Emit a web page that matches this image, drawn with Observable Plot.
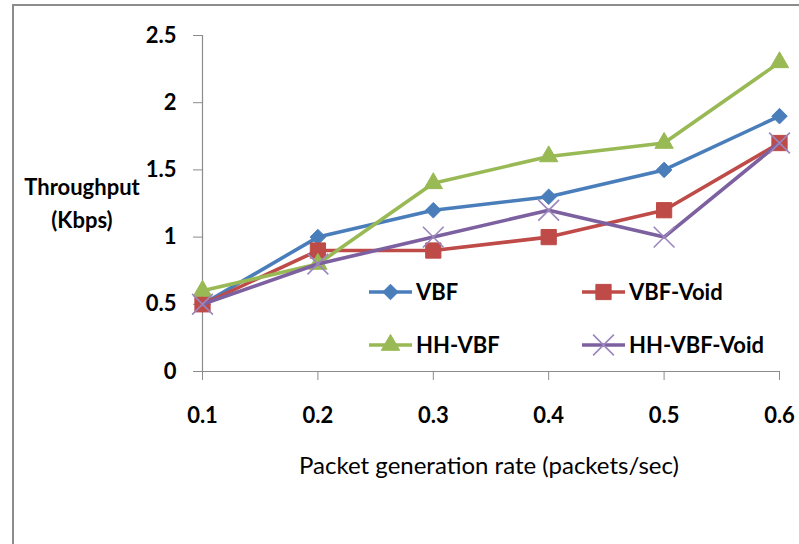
<!DOCTYPE html>
<html>
<head>
<meta charset="utf-8">
<script src="https://cdn.jsdelivr.net/npm/d3@7"></script>
<script src="https://cdn.jsdelivr.net/npm/@observablehq/plot@0.6"></script>
<style>
  html, body { margin: 0; padding: 0; background: #fff; }
  #wrap { position: relative; width: 799px; height: 544px; overflow: hidden; font-family: Lato, "Open Sans", sans-serif; }
  #border { position: absolute; left: 12px; top: 4px; width: 900px; height: 700px; border: 2px solid #8c8c8c; box-sizing: border-box; }
  #chart, #overlay { position: absolute; left: 0; top: 0; }
</style>
</head>
<body>
<div id="wrap">
  <div id="border"></div>
  <div id="chart"></div>
  <svg id="overlay" width="799" height="544"></svg>
</div>
<script>
// ---- data ----
const rates = [0.1, 0.2, 0.3, 0.4, 0.5, 0.6];
const vbf = [0.5, 1.0, 1.2, 1.3, 1.5, 1.9];
const vbfVoid = [0.5, 0.9, 0.9, 1.0, 1.2, 1.7];
const hhVbf = [0.6, 0.8, 1.4, 1.6, 1.7, 2.3];
const hhVbfVoid = [0.5, 0.8, 1.0, 1.2, 1.0, 1.7];
const seriesNames = ["VBF", "VBF-Void", "HH-VBF", "HH-VBF-Void"];
const xTicks = [0.1, 0.2, 0.3, 0.4, 0.5, 0.6];
const yTicks = [0, 0.5, 1, 1.5, 2, 2.5];
const xTitle = "Packet generation rate (packets/sec)";
const yTitle = ["Throughput", "(Kbps)"];

// ---- styles per series ----
const styles = {
  "VBF":         { color: "#4a7ebb", symbol: "diamond2", r: 7.0, fill: "#4a7ebb", stroke: "#4a7ebb", sw: 1 },
  "VBF-Void":    { color: "#be4b48", symbol: "square",   r: 8.6, fill: "#be4b48", stroke: "#be4b48", sw: 1 },
  "HH-VBF":      { color: "#98b954", symbol: "triangle", r: 6.8, fill: "#98b954", stroke: "#98b954", sw: 1 },
  "HH-VBF-Void": { color: "#7d60a0", symbol: "times",    r: 9.5, fill: "none",    stroke: "#9c86bd", sw: 1.6 }
};

const seriesValues = [vbf, vbfVoid, hhVbf, hhVbfVoid];
const table = seriesNames.map((name, i) =>
  rates.map((x, j) => ({ series: name, x, y: seriesValues[i][j] }))
);

const font = "Lato, 'Open Sans', sans-serif";
const marks = [
  Plot.ruleY([0], { stroke: "#8c8c8c", strokeWidth: 1.2 }),
  Plot.ruleX([0.1], { stroke: "#8c8c8c", strokeWidth: 1.2 }),
  Plot.axisX({ ticks: xTicks, tickFormat: d => d.toFixed(1), tickSize: 9, tickPadding: 27,
               stroke: "#8c8c8c", fill: "black", label: null, fontSize: 22, fontWeight: "bold" }),
  Plot.axisY({ ticks: yTicks, tickFormat: d => String(d), tickSize: 9, tickPadding: 17,
               stroke: "#8c8c8c", fill: "black", label: null, fontSize: 22, fontWeight: "bold" })
];
table.forEach(rows => {
  const s = styles[rows[0].series];
  marks.push(Plot.line(rows, { x: "x", y: "y", stroke: s.color, strokeWidth: 3.6 }));
  marks.push(Plot.dot(rows, { x: "x", y: "y", symbol: () => s.symbol, r: s.r,
                              fill: s.fill, stroke: s.stroke, strokeWidth: s.sw }));
});

const plot = Plot.plot({
  width: 799,
  height: 544,
  marginLeft: 202,
  marginRight: 20,
  marginTop: 35,
  marginBottom: 173,
  style: { fontFamily: font, background: "transparent", color: "black" },
  x: { domain: [0.1, 0.6] },
  y: { domain: [0, 2.5] },
  symbol: { type: "identity" },
  marks
});
document.getElementById("chart").appendChild(plot);

// ---- overlay: axis titles and legend ----
const ov = d3.select("#overlay");
ov.append("text").attr("x", 489).attr("y", 474).attr("text-anchor", "middle")
  .attr("font-family", font).attr("font-size", 24).attr("fill", "black").text(xTitle);
yTitle.forEach((t, i) => {
  ov.append("text").attr("x", 82).attr("y", 195 + i * 33).attr("text-anchor", "middle")
    .attr("font-family", font).attr("font-size", 22).attr("font-weight", "bold").attr("fill", "black").text(t);
});

const symMap = { diamond2: d3.symbolDiamond2, square: d3.symbolSquare, triangle: d3.symbolTriangle, times: d3.symbolTimes };
const legendLeft = [369, 582];
const legendTop = [292, 345];
seriesNames.forEach((name, i) => {
  const s = styles[name];
  const x0 = legendLeft[i % 2], y0 = legendTop[Math.floor(i / 2)];
  const g = ov.append("g").attr("transform", `translate(${x0},${y0})`);
  g.append("line").attr("x1", 0).attr("x2", 43).attr("y1", 0).attr("y2", 0)
    .attr("stroke", s.color).attr("stroke-width", 3.6);
  g.append("path").attr("transform", "translate(21.5,0)")
    .attr("d", d3.symbol(symMap[s.symbol], Math.PI * s.r * s.r)())
    .attr("fill", s.fill).attr("stroke", s.stroke).attr("stroke-width", s.sw);
  g.append("text").attr("x", 47).attr("y", 8).attr("font-family", font).attr("font-size", 22)
    .attr("font-weight", "bold").attr("fill", "black").text(name);
});
</script>
</body>
</html>
